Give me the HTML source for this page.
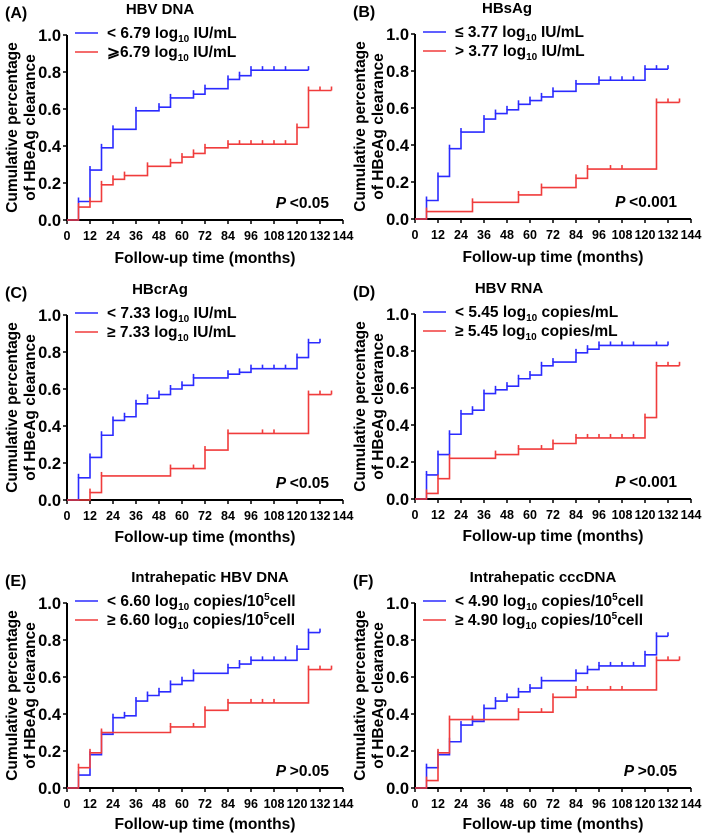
<!DOCTYPE html>
<html><head><meta charset="utf-8"><style>
body{margin:0;background:#fff}
svg{display:block;font-family:"Liberation Sans",Arial,sans-serif;font-weight:bold}
</style></head><body>
<svg id="fig" width="709" height="834" viewBox="0 0 709 834" xmlns="http://www.w3.org/2000/svg"></svg>
<script>
// ---- data: [time, cumulative value after step] ----
const xTicks=[0,12,24,36,48,60,72,84,96,108,120,132,144];
const yTicks=[0,0.2,0.4,0.6,0.8,1.0];
const aBlue=[[6,0.10],[12,0.27],[18,0.39],[24,0.49],[36,0.59],[48,0.61],[54,0.66],[66,0.68],[72,0.71],[84,0.76],[90,0.78],[96,0.81]];
const aBlueEnd=126, aBlueCens=[102,108,114,126];
const aRed=[[6,0.07],[12,0.10],[18,0.19],[24,0.22],[30,0.24],[42,0.29],[54,0.31],[60,0.34],[66,0.36],[72,0.39],[84,0.41],[120,0.50],[126,0.70]];
const aRedEnd=138, aRedCens=[90,96,102,108,114,132,138];
const bBlue=[[6,0.10],[12,0.23],[18,0.38],[24,0.47],[36,0.54],[42,0.57],[48,0.59],[54,0.62],[60,0.64],[66,0.66],[72,0.69],[84,0.73],[96,0.75],[120,0.81]];
const bBlueEnd=132, bBlueCens=[102,108,114,126,132];
const bRed=[[6,0.04],[30,0.09],[54,0.13],[66,0.17],[84,0.22],[90,0.27],[126,0.63]];
const bRedEnd=138, bRedCens=[102,108,132,138];
const cBlue=[[6,0.12],[12,0.23],[18,0.35],[24,0.43],[30,0.45],[36,0.52],[42,0.55],[48,0.57],[54,0.60],[60,0.62],[66,0.66],[84,0.68],[90,0.69],[96,0.71],[120,0.77],[126,0.85]];
const cBlueEnd=132, cBlueCens=[102,108,114,132];
const cRed=[[12,0.04],[18,0.13],[54,0.17],[72,0.27],[84,0.36],[126,0.57]];
const cRedEnd=138, cRedCens=[66,102,108,132,138];
const dBlue=[[6,0.13],[12,0.24],[18,0.35],[24,0.46],[30,0.48],[36,0.57],[42,0.59],[48,0.61],[54,0.65],[60,0.67],[66,0.72],[72,0.74],[84,0.79],[90,0.81],[96,0.83]];
const dBlueEnd=132, dBlueCens=[102,108,114,126,132];
const dRed=[[6,0.03],[12,0.11],[18,0.22],[42,0.24],[54,0.27],[72,0.30],[84,0.33],[120,0.44],[126,0.72]];
const dRedEnd=138, dRedCens=[66,90,96,102,108,114,132,138];
const eBlue=[[6,0.07],[12,0.18],[18,0.29],[24,0.38],[30,0.39],[36,0.47],[42,0.50],[48,0.52],[54,0.56],[60,0.58],[66,0.62],[84,0.65],[90,0.67],[96,0.69],[120,0.75],[126,0.84]];
const eBlueEnd=132, eBlueCens=[102,108,114,132];
const eRed=[[6,0.11],[12,0.19],[18,0.30],[54,0.33],[72,0.42],[84,0.46],[126,0.64]];
const eRedEnd=138, eRedCens=[66,96,102,108,132,138];
const fBlue=[[6,0.11],[12,0.18],[18,0.25],[24,0.34],[30,0.36],[36,0.43],[42,0.47],[48,0.49],[54,0.52],[60,0.54],[66,0.58],[84,0.62],[90,0.64],[96,0.66],[120,0.72],[126,0.82]];
const fBlueEnd=132, fBlueCens=[102,108,114,132];
const fRed=[[6,0.04],[12,0.19],[18,0.37],[54,0.41],[72,0.49],[84,0.53],[126,0.69]];
const fRedEnd=138, fRedCens=[30,66,90,102,108,132,138];

const panels=[
 {id:'a',lab:'(A)',title:'HBV DNA',tx:93,x0:67,y0:220,xto:43,blue:aBlue,be:aBlueEnd,bc:aBlueCens,red:aRed,re:aRedEnd,rc:aRedCens,l1:['< 6.79 log','10',' IU/mL'],l2:['\u2a7e6.79 log','10',' IU/mL'],p:'<0.05'},
 {id:'b',lab:'(B)',title:'HBsAg',tx:92,x0:415,y0:219,xto:43,blue:bBlue,be:bBlueEnd,bc:bBlueCens,red:bRed,re:bRedEnd,rc:bRedCens,l1:['\u2264 3.77 log','10',' IU/mL'],l2:['> 3.77 log','10',' IU/mL'],p:'<0.001'},
 {id:'c',lab:'(C)',title:'HBcrAg',tx:93,x0:67,y0:500,xto:42,blue:cBlue,be:cBlueEnd,bc:cBlueCens,red:cRed,re:cRedEnd,rc:cRedCens,l1:['< 7.33 log','10',' IU/mL'],l2:['\u2265 7.33 log','10',' IU/mL'],p:'<0.05'},
 {id:'d',lab:'(D)',title:'HBV RNA',tx:94,x0:415,y0:499,xto:42,blue:dBlue,be:dBlueEnd,bc:dBlueCens,red:dRed,re:dRedEnd,rc:dRedCens,l1:['< 5.45 log','10',' copies/mL'],l2:['\u2265 5.45 log','10',' copies/mL'],p:'<0.001'},
 {id:'e',lab:'(E)',title:'Intrahepatic HBV DNA',tx:143,x0:67,y0:788,xto:41,blue:eBlue,be:eBlueEnd,bc:eBlueCens,red:eRed,re:eRedEnd,rc:eRedCens,l1:['< 6.60 log','10',' copies/10','5','cell'],l2:['\u2265 6.60 log','10',' copies/10','5','cell'],p:'>0.05'},
 {id:'f',lab:'(F)',title:'Intrahepatic cccDNA',tx:128,x0:415,y0:788,xto:41,blue:fBlue,be:fBlueEnd,bc:fBlueCens,red:fRed,re:fRedEnd,rc:fRedCens,l1:['< 4.90 log','10',' copies/10','5','cell'],l2:['\u2265 4.90 log','10',' copies/10','5','cell'],p:'>0.05'}
];
const NS='http://www.w3.org/2000/svg';
const svg=document.getElementById('fig');
function mk(tag,attrs,parent){const e=document.createElementNS(NS,tag);for(const k in attrs)e.setAttribute(k,attrs[k]);(parent||svg).appendChild(e);return e;}
const W=276,H=185;

panels.forEach(P=>{
 const g=mk('g',{});
 
 
 const X=t=>P.x0+t/144*W, Y=v=>P.y0-v*H, y1=P.y0-H;
 const ax=mk('path',{d:`M${P.x0},${y1} V${P.y0} H${P.x0+W}`,stroke:'#000','stroke-width':2,fill:'none'},g);
 
 
 xTicks.forEach(t=>{
  mk('line',{x1:X(t),x2:X(t),y1:P.y0,y2:P.y0+4,stroke:'#000','stroke-width':1.5},g);
  const tl=mk('text',{x:X(t),y:P.y0+20,'text-anchor':'middle','font-size':12.5},g);tl.textContent=t;
  
  
 });
 yTicks.forEach(v=>{
  mk('line',{x1:P.x0-4,x2:P.x0,y1:Y(v),y2:Y(v),stroke:'#000','stroke-width':1.5},g);
  const tl=mk('text',{x:P.x0-6,y:Y(v)+6,'text-anchor':'end','font-size':16.5},g);tl.textContent=v.toFixed(1);
  
  
 });
 const lab=mk('text',{x:P.x0-62,y:y1-17,'font-size':16},g);lab.textContent=P.lab;
 
 
 const ti=mk('text',{x:P.x0+P.tx,y:y1-21,'text-anchor':'middle','font-size':15},g);ti.textContent=P.title;
 
 
 const cy=(P.y0+y1)/2;
 const yt=mk('text',{transform:`translate(${P.x0-50},${cy}) rotate(-90)`,'text-anchor':'middle','font-size':15.5},g);
 
 
 const t1=mk('tspan',{x:0,y:0},yt);t1.textContent='Cumulative percentage';
 const t2=mk('tspan',{x:0,y:18},yt);t2.textContent='of HBeAg clearance';
 const xt=mk('text',{x:P.x0+W/2,y:P.y0+P.xto,'text-anchor':'middle','font-size':15.6},g);xt.textContent='Follow-up time (months)';
 
 
 const pt=mk('text',{x:P.x0+262,y:P.y0-12,'text-anchor':'end','font-size':15.5},g);
 
 
 const pi=mk('tspan',{'font-style':'italic'},pt);pi.textContent='P ';
 const pv=mk('tspan',{},pt);pv.textContent=P.p;
 [[P.l1,'#2b2bff',y1-2],[P.l2,'#f03c3c',y1+17]].forEach(([parts,col,ly],i)=>{
  const ll=mk('line',{x1:P.x0+8,x2:P.x0+31,y1:ly,y2:ly,stroke:col,'stroke-width':1.6},g);
  
  
  const lt=mk('text',{x:P.x0+40,y:ly+5,'font-size':15.5},g);
  
  
  parts.forEach((s,k)=>{
   let a={};
   if(k===1) a={'font-size':10,dy:4};
   else if(k===2) a={dy:-4};
   else if(k===3) a={'font-size':10,dy:-6};
   else if(k===4) a={dy:6};
   const sp=mk('tspan',a,lt);sp.textContent=s;
  });
 });
 [[P.blue,P.be,P.bc,'#2b2bff','blue'],[P.red,P.re,P.rc,'#f03c3c','red']].forEach(([data,end,cens,col,nm])=>{
  let d=`M${X(0)},${Y(0)}`;
  data.forEach(([t,v])=>{d+=` H${X(t)} V${Y(v)}`;});
  d+=` H${X(end)}`;
  const ln=mk('path',{d,stroke:col,'stroke-width':1.6,fill:'none'},g);
  
  
  const valAt=t=>{let v=0;data.forEach(([tt,vv])=>{if(tt<=t)v=vv;});return v;};
  const ticks=cens.concat(data.map(p=>p[0]));
  ticks.forEach(t=>{
   const v=valAt(t);
   const c=mk('line',{x1:X(t),x2:X(t),y1:Y(v),y2:Y(v)-4,stroke:col,'stroke-width':1.6},g);
   
   
  });
 });
});
</script>
</body></html>
